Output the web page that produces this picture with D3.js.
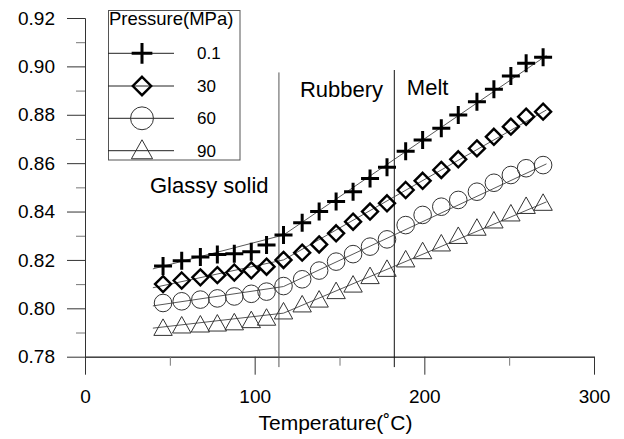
<!DOCTYPE html>
<html>
<head>
<meta charset="utf-8">
<script src="https://cdn.jsdelivr.net/npm/d3@7"></script>
<style>
body { margin: 0; background: #fff; }
svg text { font-family: "Liberation Sans", Arial, sans-serif; fill: #000; }
</style>
</head>
<body>
<svg id="chart" width="624" height="439"></svg>
<script>
// data
const temps = [46, 57, 68, 78, 88, 98, 107, 117, 128, 138, 148, 158, 168, 178, 189, 199, 210, 220, 231, 241, 251, 260, 270]
const p01 = [0.8175, 0.8197, 0.8212, 0.8222, 0.8226, 0.8234, 0.8262, 0.8303, 0.8354, 0.8400, 0.8441, 0.8482, 0.8537, 0.8583, 0.8649, 0.8696, 0.8744, 0.8799, 0.8854, 0.8905, 0.8960, 0.9013, 0.9038]
const p30 = [0.8100, 0.8115, 0.8128, 0.8137, 0.8148, 0.8157, 0.8172, 0.8200, 0.8230, 0.8264, 0.8310, 0.8358, 0.8400, 0.8434, 0.8489, 0.8527, 0.8572, 0.8616, 0.8661, 0.8709, 0.8751, 0.8792, 0.8813]
const p60 = [0.8022, 0.8029, 0.8036, 0.8041, 0.8049, 0.8060, 0.8069, 0.8092, 0.8120, 0.8156, 0.8193, 0.8224, 0.8255, 0.8285, 0.8344, 0.8386, 0.8420, 0.8448, 0.8482, 0.8519, 0.8551, 0.8579, 0.8592]
const p90 = [0.7917, 0.7927, 0.7931, 0.7935, 0.7940, 0.7949, 0.7959, 0.7985, 0.8014, 0.8034, 0.8069, 0.8096, 0.8131, 0.8161, 0.8200, 0.8234, 0.8266, 0.8297, 0.8331, 0.8361, 0.8390, 0.8421, 0.8434]

// fitted lines (glassy part + rubbery/melt part)
const fit01 = [[40, 0.8163], [117, 0.8303], [272, 0.9045]]
const fit30 = [[40, 0.8085], [117, 0.8200], [272, 0.8820]]
const fit60 = [[40, 0.8010], [117, 0.8090], [272, 0.8597]]
const fit90 = [[40, 0.7918], [117, 0.7980], [272, 0.8440]]

const pressures = ['0.1', '30', '60', '90']
const regionBounds = [114.3, 182.3]
const xTicks = [0, 100, 200, 300]
const xMinor = [50, 150, 250]
const yTicks = [0.78, 0.80, 0.82, 0.84, 0.86, 0.88, 0.90, 0.92]
const yMinor = [0.79, 0.81, 0.83, 0.85, 0.87, 0.89, 0.91]

const series = [
    {name: pressures[0], values: p01, fit: fit01, shape: 'plus'},
    {name: pressures[1], values: p30, fit: fit30, shape: 'diamond'},
    {name: pressures[2], values: p60, fit: fit60, shape: 'circle'},
    {name: pressures[3], values: p90, fit: fit90, shape: 'triangle'}
]

const svg = d3.select('#chart')
const x = d3.scaleLinear().domain([0, 300]).range([85, 594])
const y = d3.scaleLinear().domain([0.78, 0.92]).range([356.7, 18])

// marker shapes, s = scale factor
function markerPath(shape, s) {
    const p = d3.path()
    if (shape === 'plus') {
        p.moveTo(-9 * s, 0); p.lineTo(9 * s, 0)
        p.moveTo(0, -9 * s); p.lineTo(0, 9 * s)
    } else if (shape === 'diamond') {
        p.moveTo(0, -8 * s); p.lineTo(8 * s, 0); p.lineTo(0, 8 * s); p.lineTo(-8 * s, 0); p.closePath()
    } else if (shape === 'circle') {
        p.ellipse ? p.ellipse(0, 0, 9 * s, 8.5 * s, 0, 0, 2 * Math.PI) : p.arc(0, 0, 8.8 * s, 0, 2 * Math.PI)
    } else {
        p.moveTo(0, -9.5 * s); p.lineTo(9.2 * s, 7 * s); p.lineTo(-9.2 * s, 7 * s); p.closePath()
    }
    return p.toString()
}
const markerStyle = {
    plus: {stroke: '#000', width: 3},
    diamond: {stroke: '#000', width: 2.4},
    circle: {stroke: '#333', width: 1},
    triangle: {stroke: '#333', width: 1}
}

// --- axes
const yAxis = svg.append('g')
    .attr('transform', `translate(${x(0)},0)`)
    .call(d3.axisLeft(y).tickValues(yTicks).tickSize(18).tickSizeOuter(0).tickPadding(12)
        .tickFormat(d3.format('.2f')))
const yAxisMinor = svg.append('g')
    .attr('transform', `translate(${x(0)},0)`)
    .call(d3.axisLeft(y).tickValues(yMinor).tickSize(9).tickSizeOuter(0).tickFormat(''))
const xAxis = svg.append('g')
    .attr('transform', `translate(0,${y(0.78)})`)
    .call(d3.axisBottom(x).tickValues(xTicks).tickSize(18).tickSizeOuter(0).tickPadding(15))
const xAxisMinor = svg.append('g')
    .attr('transform', `translate(0,${y(0.78)})`)
    .call(d3.axisBottom(x).tickValues(xMinor).tickSize(9).tickSizeOuter(0).tickFormat(''))

svg.selectAll('.domain, .tick line').attr('stroke', '#333').attr('stroke-width', 1)
yAxisMinor.selectAll('.tick line').attr('stroke', '#777')
xAxisMinor.selectAll('.tick line').attr('stroke', '#777')
svg.selectAll('.tick text').attr('font-size', 19).attr('font-family', '"Liberation Sans", Arial, sans-serif').attr('fill', '#000')

svg.append('text')
    .attr('x', (x(0) + x(300)) / 2 - 4).attr('y', 430)
    .attr('text-anchor', 'middle').attr('font-size', 21)
    .text('Temperature(\u02DAC)')

// --- region boundaries
svg.selectAll('line.region').data(regionBounds).enter().append('line')
    .attr('class', 'region')
    .attr('x1', d => x(d)).attr('x2', d => x(d))
    .attr('y1', (d, i) => y(i === 0 ? 0.8975 : 0.8985)).attr('y2', y(0.7757))
    .attr('stroke', (d, i) => i === 0 ? '#555' : '#111').attr('stroke-width', 1)

svg.append('text').attr('x', x(38.3)).attr('y', y(0.8477)).attr('font-size', 22).text('Glassy solid')
svg.append('text').attr('x', x(126.7)).attr('y', y(0.8873)).attr('font-size', 22).text('Rubbery')
svg.append('text').attr('x', x(189.7)).attr('y', y(0.8880)).attr('font-size', 22).text('Melt')

// --- fit lines
const fitLine = d3.line().x(d => x(d[0])).y(d => y(d[1]))
svg.selectAll('path.fit').data(series).enter().append('path')
    .attr('class', 'fit')
    .attr('d', d => fitLine(d.fit))
    .attr('fill', 'none').attr('stroke', '#444').attr('stroke-width', 0.9)

// --- markers
series.forEach(s => {
    const st = markerStyle[s.shape]
    svg.append('g').selectAll('path').data(s.values).enter().append('path')
        .attr('transform', (v, i) => `translate(${x(temps[i])},${y(v)})`)
        .attr('d', markerPath(s.shape, 1))
        .attr('fill', 'none')
        .attr('stroke', st.stroke).attr('stroke-width', st.width)
})

// --- legend
const legend = svg.append('g')
legend.append('rect')
    .attr('x', 108.5).attr('y', 10.5).attr('width', 131.5).attr('height', 149.5)
    .attr('fill', '#fff').attr('stroke', '#555').attr('stroke-width', 1)
legend.append('text').attr('x', 109).attr('y', 25).attr('font-size', 18.5).text('Pressure(MPa)')
const rows = legend.selectAll('g.row').data(series).enter().append('g')
    .attr('class', 'row')
    .attr('transform', (d, i) => `translate(0,${[53.3, 86, 118.3, 150.7][i]})`)
rows.append('line').attr('x1', 108).attr('x2', 174).attr('stroke', '#222').attr('stroke-width', 1)
rows.append('path')
    .attr('transform', 'translate(142,0)')
    .attr('d', d => markerPath(d.shape, d.shape === 'circle' ? 1.3 : 1.15))
    .attr('fill', 'none')
    .attr('stroke', d => markerStyle[d.shape].stroke)
    .attr('stroke-width', d => markerStyle[d.shape].width)
rows.append('text').attr('x', 197).attr('y', 6).attr('font-size', 17).text(d => d.name)
</script>
</body>
</html>
